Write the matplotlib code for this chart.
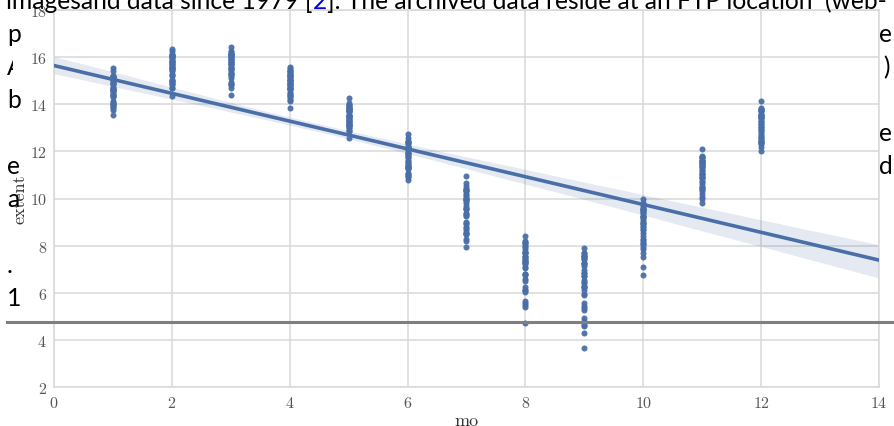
import numpy as np
import pandas as pd
import matplotlib
matplotlib.use("Agg")
import matplotlib.pyplot as plt
import seaborn as sns
from matplotlib.transforms import Bbox
from matplotlib.lines import Line2D

# ---------------- data (monthly sea-ice extent) ----------------
months = list(range(1, 13))
jan = [15.55, 15.10, 15.20, 15.40, 15.20, 14.75, 15.00, 15.10, 15.20, 15.15, 15.10, 14.90, 14.70,
       14.85, 15.05, 14.85, 14.60, 14.40, 14.65, 14.90, 14.60, 14.50, 14.45, 14.55, 14.65, 14.30,
       13.95, 13.90, 14.15, 14.35, 14.40, 14.00, 13.75, 14.05, 14.05, 13.95, 13.85, 13.56]
feb = [16.35, 16.05, 16.15, 16.25, 16.10, 15.70, 15.95, 16.05, 16.10, 16.05, 15.85, 15.90, 15.70,
       15.80, 16.00, 15.85, 15.60, 15.40, 15.65, 15.80, 15.55, 15.45, 15.50, 15.55, 15.60, 15.30,
       14.95, 14.70, 14.90, 15.25, 15.20, 15.00, 14.70, 15.05, 15.05, 14.85, 14.80, 14.36]
mar = [16.45, 16.15, 16.20, 16.25, 16.15, 15.95, 16.10, 16.15, 16.05, 16.15, 16.00, 15.90, 15.75,
       15.85, 16.05, 15.90, 15.65, 15.55, 15.80, 15.85, 15.70, 15.50, 15.60, 15.55, 15.70, 15.35,
       15.10, 14.80, 14.95, 15.45, 15.30, 15.30, 14.85, 15.30, 15.20, 14.85, 14.70, 14.40]
apr = [15.60, 15.30, 15.40, 15.55, 15.45, 15.10, 15.30, 15.35, 15.20, 15.40, 15.20, 15.00, 15.05,
       15.05, 15.25, 15.15, 14.85, 14.75, 15.05, 14.95, 14.90, 14.80, 14.85, 14.65, 14.80, 14.50,
       14.45, 14.15, 14.35, 14.65, 14.70, 14.65, 14.25, 14.70, 14.45, 14.35, 14.20, 13.86]
may = [14.28, 13.95, 13.85, 13.95, 14.05, 13.65, 13.90, 13.85, 13.85, 13.95, 13.75, 13.55, 13.75,
       13.70, 13.70, 13.80, 13.50, 13.40, 13.55, 13.45, 13.50, 13.30, 13.40, 13.25, 13.35, 13.10,
       13.25, 12.95, 13.10, 13.15, 13.35, 13.05, 12.85, 13.15, 13.10, 13.05, 12.85, 12.58]
jun = [12.72, 12.40, 12.35, 12.55, 12.45, 12.15, 12.20, 12.40, 12.20, 12.30, 12.15, 12.10, 12.20,
       12.05, 11.95, 12.10, 11.80, 11.95, 11.95, 11.85, 11.70, 11.60, 11.75, 11.60, 11.50, 11.40,
       11.40, 11.35, 11.30, 11.25, 11.30, 10.95, 11.00, 10.90, 11.45, 11.05, 11.10, 10.80]
jul = [10.95, 10.40, 10.55, 10.65, 10.40, 9.95, 10.30, 10.35, 10.00, 10.30, 10.00, 9.90, 10.15,
       10.20, 9.80, 10.05, 9.55, 10.00, 9.60, 9.70, 9.55, 9.40, 9.25, 9.35, 9.30, 9.00,
       8.95, 8.80, 8.55, 8.90, 8.75, 8.55, 8.30, 7.95, 8.65, 8.50, 8.50, 8.20]
aug = [8.40, 8.20, 7.95, 8.15, 8.10, 7.75, 7.55, 8.00, 7.70, 7.75, 7.45, 7.30, 7.50,
       7.85, 7.25, 7.70, 6.80, 8.05, 7.35, 7.50, 7.40, 7.20, 7.30, 6.80, 7.10, 7.05,
       6.60, 6.75, 5.55, 6.05, 6.50, 6.10, 5.50, 4.72, 6.10, 6.25, 5.65, 5.40]
sep = [7.88, 7.70, 7.25, 7.45, 7.55, 7.15, 6.95, 7.55, 7.50, 7.45, 7.25, 6.45, 6.70,
       7.55, 6.55, 7.20, 6.25, 7.70, 6.85, 6.70, 6.30, 6.40, 6.85, 5.95, 6.25, 6.10,
       5.55, 5.90, 4.30, 4.60, 5.45, 4.93, 4.62, 3.65, 5.35, 5.25, 4.80, 4.70]
oct_ = [10.00, 9.50, 9.45, 9.70, 9.60, 9.20, 9.25, 9.75, 9.50, 9.55, 9.40, 9.05, 9.20,
        9.80, 9.25, 9.55, 8.80, 9.40, 9.15, 8.90, 8.95, 8.85, 8.95, 8.55, 8.65, 8.70,
        8.40, 8.25, 6.75, 7.70, 7.50, 7.95, 7.10, 8.05, 8.30, 8.15, 8.05, 7.85]
nov = [12.10, 11.80, 11.60, 11.75, 11.75, 11.45, 11.45, 11.70, 11.60, 11.65, 11.55, 11.35, 11.40,
       11.60, 11.50, 11.40, 11.20, 11.10, 11.30, 11.15, 11.05, 10.90, 11.05, 10.85, 10.95, 10.85,
       10.70, 10.40, 10.00, 10.75, 10.50, 10.30, 10.20, 10.40, 10.50, 10.60, 10.05, 9.82]
dec = [14.15, 13.75, 13.75, 13.85, 13.80, 13.50, 13.45, 13.70, 13.60, 13.70, 13.55, 13.30, 13.40,
       13.55, 13.45, 13.40, 13.15, 13.20, 13.30, 13.05, 13.10, 12.90, 13.05, 12.85, 12.95, 12.80,
       12.65, 12.40, 12.45, 12.70, 12.55, 12.30, 12.40, 12.35, 12.55, 12.50, 12.20, 12.00]
series = [jan, feb, mar, apr, may, jun, jul, aug, sep, oct_, nov, dec]

xticks = [0, 2, 4, 6, 8, 10, 12, 14]
yticks = [2, 4, 6, 8, 10, 12, 14, 16, 18]

# overlaid page text fragments
top_line = ["imagesand data since 1979 [", "2", "]. The archived data reside at an FTP location  (web-"]
left_frags = [("p", 42), ("A", 75), ("b", 108), ("e", 174), ("a", 207), (".", 273), ("1", 306)]
right_frags = [("e", 42), (")", 75), ("e", 141), ("d", 174)]

df = pd.DataFrame({
    "mo": np.repeat(months, [len(s) for s in series]),
    "extent": np.concatenate([np.asarray(s, float) for s in series]),
})

# ---------------- figure ----------------
plt.rcParams["font.family"] = ["cmr10"]
plt.rcParams["axes.formatter.use_mathtext"] = True

W, H = 894, 427
fig = plt.figure(figsize=(W / 100, H / 100), dpi=100)
fig.patch.set_facecolor("white")
ax = fig.add_axes([54 / W, 1 - 388 / H, 825 / W, 377 / H])
ax.set_facecolor("white")
ax.set_xlim(0, 14)
ax.set_ylim(2, 18)

sns.regplot(data=df, x="mo", y="extent", ax=ax, truncate=False, seed=0,
            color="#4a6fa8",
            scatter_kws=dict(s=19, linewidths=0, alpha=0.95, zorder=3),
            line_kws=dict(lw=2.6, zorder=4))
ax.set_xlim(0, 14)
ax.set_ylim(2, 18)

ax.set_xticks(xticks)
ax.set_yticks(yticks)
ax.grid(True, color="#d8d8d8", lw=1.1)
ax.set_axisbelow(True)
for sp in ax.spines.values():
    sp.set_color("#d8d8d8")
    sp.set_linewidth(1.1)
ax.tick_params(length=0, labelsize=11.5, colors="#555555")
ax.tick_params(axis="y", pad=5)
ax.tick_params(axis="x", pad=6)

ax.set_xlabel("mo", fontsize=13, color="#333333")
ax.set_ylabel("extent", fontsize=13, color="#333333")
ax.xaxis.set_label_coords(0.5, (388 - 421) / 377)
ax.xaxis.label.set_va("center")
ax.yaxis.set_label_coords((20 - 54) / 825, 0.5)
ax.yaxis.label.set_va("center")
ax.yaxis.label.set_ha("center")

# ---------------- overlaid document text ----------------
page_font = ["Lato", "DejaVu Sans"]
renderer = fig.canvas.get_renderer()
probe = fig.text(0, 0, "".join(top_line), fontsize=16, family=page_font)
wpx = probe.get_window_extent(renderer).width
probe.remove()
fs = 16 * 886 / wpx

x_px = 6
for i, seg in enumerate(top_line):
    t = fig.text(x_px / W, 1 - 9 / H, seg, fontsize=fs, family=page_font,
                 color=("#0000ee" if i == 1 else "black"), va="baseline", ha="left", zorder=20)
    x_px += t.get_window_extent(renderer).width

for s, yb in left_frags:
    t = fig.text(7 / W, 1 - yb / H, s, fontsize=fs, family=page_font, color="black",
                 va="baseline", ha="left", zorder=20)
    if s == "A":
        t.set_clip_box(Bbox.from_extents(0, 0, 13, H))
        t.set_clip_on(True)

for s, yb in right_frags:
    xx = 883 if s == ")" else 879
    fig.text(xx / W, 1 - yb / H, s, fontsize=fs, family=page_font, color="black",
             va="baseline", ha="left", zorder=20)

fig.add_artist(Line2D([7 / W, 893 / W], [1 - 323 / H, 1 - 323 / H], transform=fig.transFigure,
                      color="#7f7f7f", lw=2.2, zorder=25))

fig.savefig("out.png", dpi=100, facecolor="white")
